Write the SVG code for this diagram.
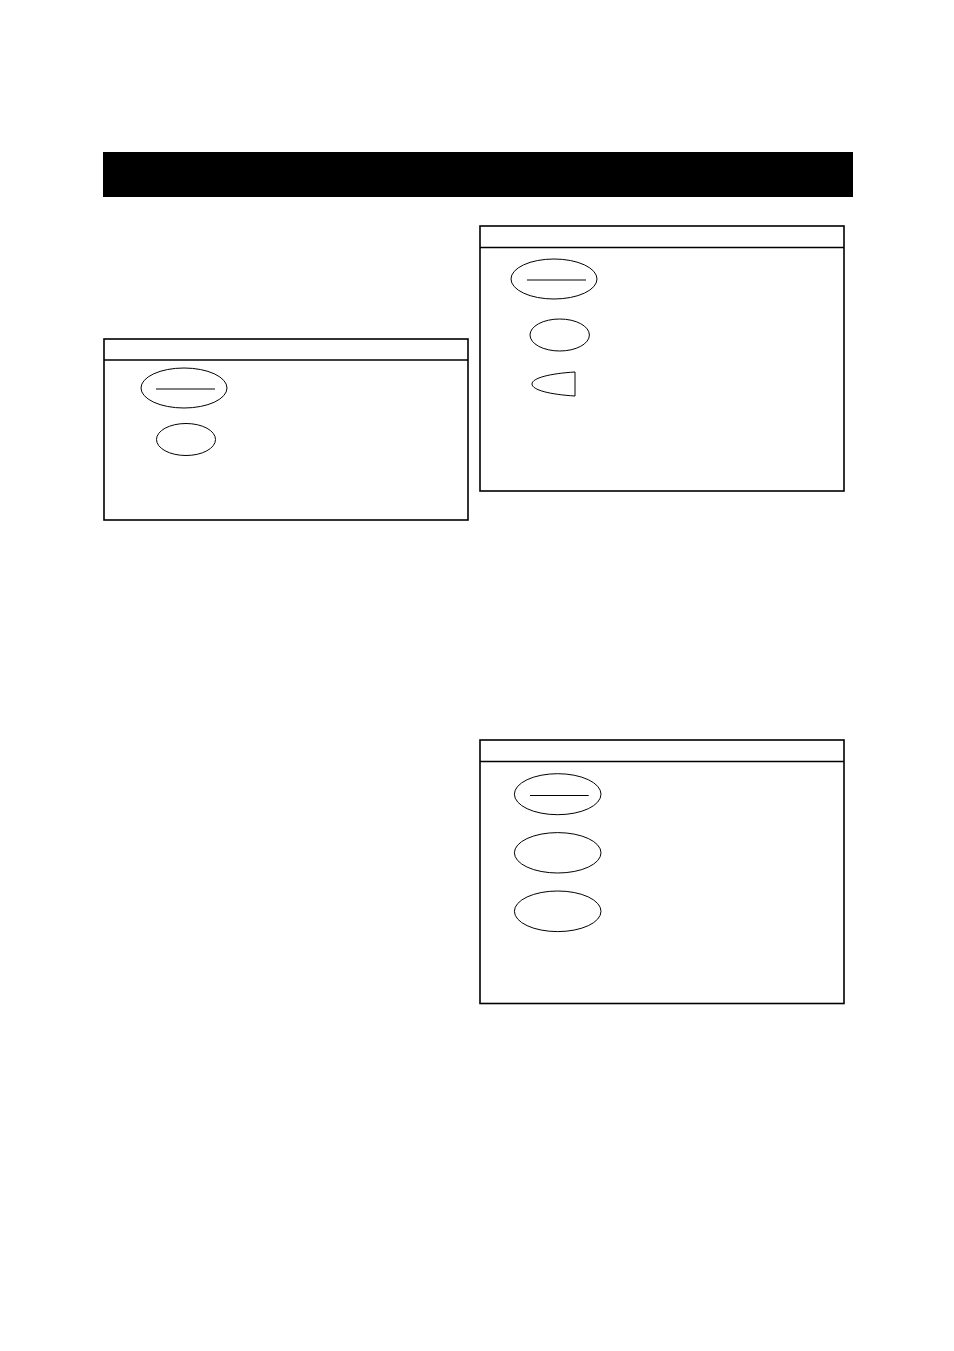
<svg xmlns="http://www.w3.org/2000/svg" width="954" height="1351" viewBox="0 0 954 1351">
<style>
.box{fill:none;stroke:#000;stroke-width:1.6}
.hdr{stroke:#000;stroke-width:1.6}
.ov{fill:#fff;stroke:#000;stroke-width:1}
.bar{stroke:#000;stroke-width:1}
</style>
<rect x="0" y="0" width="954" height="1351" fill="#fff"/>
<rect id="titlebar" x="103" y="152" width="750" height="45" fill="#000"/>
<g id="panel1">
<rect class="box" x="104" y="339" width="364" height="181"/>
<line class="hdr" x1="104" y1="360" x2="468" y2="360"/>
<ellipse class="ov" cx="184" cy="388" rx="43" ry="20"/>
<line class="bar" x1="156" y1="389" x2="215" y2="389"/>
<ellipse class="ov" cx="186" cy="439.5" rx="29.5" ry="16"/>
</g>
<g id="panel2">
<rect class="box" x="480" y="226" width="364" height="265"/>
<line class="hdr" x1="480" y1="247.5" x2="844" y2="247.5"/>
<ellipse class="ov" cx="554" cy="279" rx="43" ry="20"/>
<line class="bar" x1="527" y1="280" x2="586" y2="280"/>
<ellipse class="ov" cx="559.7" cy="335" rx="29.7" ry="16"/>
<path class="ov" d="M575,372 C550,373.5 532,378 532,384 C532,390 550,394.5 575,396 Z"/>
</g>
<g id="panel3">
<rect class="box" x="480" y="740" width="364" height="263.5"/>
<line class="hdr" x1="480" y1="761.5" x2="844" y2="761.5"/>
<ellipse class="ov" cx="557.7" cy="794.2" rx="43.3" ry="20.5"/>
<line class="bar" x1="530" y1="795.5" x2="588.7" y2="795.5"/>
<ellipse class="ov" cx="557.7" cy="852.8" rx="43.3" ry="20.2"/>
<ellipse class="ov" cx="557.7" cy="911.3" rx="43.3" ry="20.3"/>
</g>
<g id="connectors"></g>
</svg>
